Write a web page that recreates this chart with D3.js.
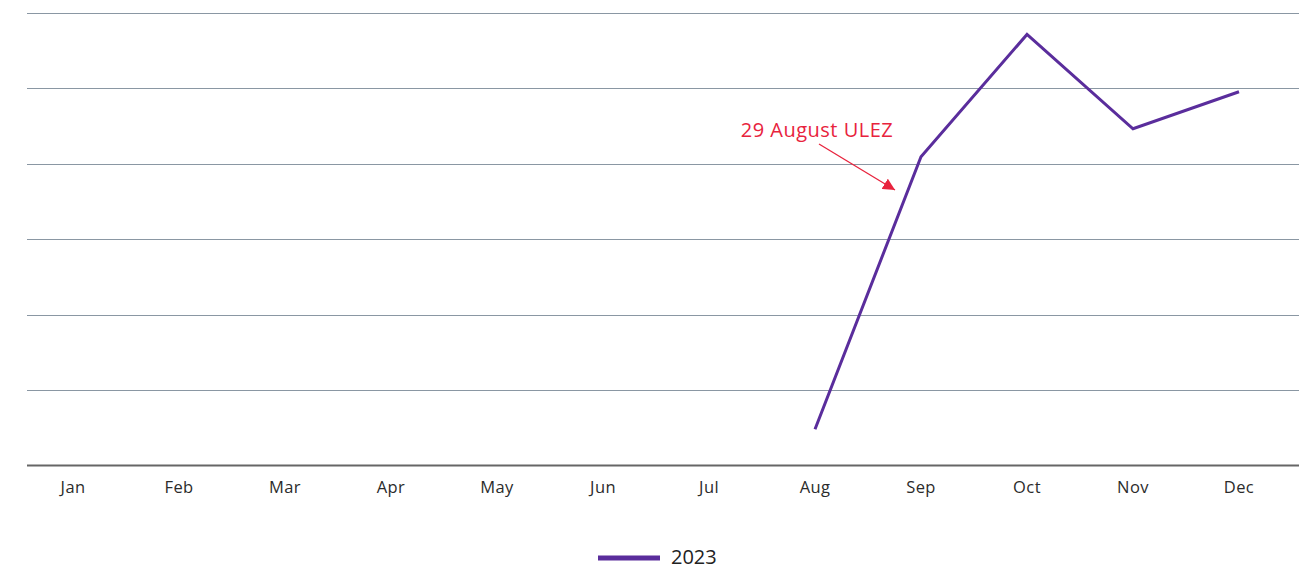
<!DOCTYPE html>
<html>
<head>
<meta charset="utf-8">
<script src="https://cdn.jsdelivr.net/npm/d3@7"></script>
<style>
  body { margin: 0; background: #fff; overflow: hidden; }
  text { font-family: "Open Sans", sans-serif; }
</style>
</head>
<body>
<div id="chart"></div>
<script>
// data
var months = ["Jan", "Feb", "Mar", "Apr", "May", "Jun", "Jul", "Aug", "Sep", "Oct", "Nov", "Dec"];
var values2023 = [null, null, null, null, null, null, null, 0.48, 4.09, 5.71, 4.46, 4.95];
var gridTicks = [0, 1, 2, 3, 4, 5, 6];
var seriesName = "2023";
var noteText = "29 August ULEZ";

var width = 1316;
var height = 567;
var plotLeft = 27;
var plotRight = 1299;
var plotTop = 12.5;
var plotBottom = 465.5;

var svg = d3
  .select("#chart")
  .append("svg")
  .attr("width", width)
  .attr("height", height)
  .style("display", "block");

var xScale = d3
  .scaleBand()
  .domain(months)
  .range([20, 1292]);

var yScale = d3
  .scaleLinear()
  .domain([0, 6])
  .range([plotBottom, plotTop]);

// gridlines
svg
  .append("g")
  .selectAll("line")
  .data(gridTicks.filter(function(d) { return d > 0; }))
  .enter()
  .append("line")
  .attr("x1", plotLeft)
  .attr("x2", plotRight)
  .attr("y1", function(d) { return Math.round(yScale(d)) + 0.5; })
  .attr("y2", function(d) { return Math.round(yScale(d)) + 0.5; })
  .attr("stroke", "#8a97a3")
  .attr("stroke-width", 1);

// x axis
var xAxis = d3.axisBottom(xScale).tickSize(0).tickPadding(16);
var gx = svg
  .append("g")
  .attr("transform", "translate(0," + plotBottom + ")")
  .call(xAxis);
gx.select(".domain").remove();
gx.selectAll("text")
  .attr("font-family", "Open Sans, sans-serif")
  .attr("font-size", 16.5)
  .attr("font-weight", 500)
  .attr("fill", "#2b2b2b")
  .attr("letter-spacing", "0.4px");
svg
  .append("line")
  .attr("x1", plotLeft)
  .attr("x2", plotRight)
  .attr("y1", plotBottom)
  .attr("y2", plotBottom)
  .attr("stroke", "#666")
  .attr("stroke-width", 2);

// line
var line = d3
  .line()
  .defined(function(d) { return d != null; })
  .x(function(d, i) { return xScale(months[i]) + xScale.bandwidth() / 2; })
  .y(function(d) { return yScale(d); });

svg
  .append("path")
  .datum(values2023)
  .attr("d", line)
  .attr("fill", "none")
  .attr("stroke", "#5a2d9c")
  .attr("stroke-width", 3)
  .attr("stroke-linejoin", "miter");

// annotation
var noteColor = "#e8233d";
svg
  .append("defs")
  .append("marker")
  .attr("id", "arrow")
  .attr("viewBox", "0 0 10 10")
  .attr("refX", 10)
  .attr("refY", 5)
  .attr("markerWidth", 12)
  .attr("markerHeight", 12)
  .attr("markerUnits", "userSpaceOnUse")
  .attr("orient", "auto")
  .append("path")
  .attr("d", "M0,0L10,5L0,10Z")
  .attr("fill", noteColor);

var augX = xScale("Aug") + xScale.bandwidth() / 2;
svg
  .append("text")
  .attr("x", augX + 2)
  .attr("y", 137)
  .attr("text-anchor", "middle")
  .attr("font-size", 20)
  .attr("fill", noteColor)
  .attr("letter-spacing", "0.5px")
  .text(noteText);
svg
  .append("line")
  .attr("x1", augX + 4)
  .attr("y1", 144)
  .attr("x2", augX + 80)
  .attr("y2", 190)
  .attr("stroke", noteColor)
  .attr("stroke-width", 1.3)
  .attr("marker-end", "url(#arrow)");

// legend
var legend = svg.append("g").attr("transform", "translate(598,558)");
legend
  .append("line")
  .attr("x1", 0)
  .attr("x2", 62)
  .attr("stroke", "#5a2d9c")
  .attr("stroke-width", 5);
legend
  .append("text")
  .attr("x", 73)
  .attr("y", 6)
  .attr("font-size", 20)
  .attr("fill", "#222")
  .text(seriesName);
</script>
</body>
</html>
